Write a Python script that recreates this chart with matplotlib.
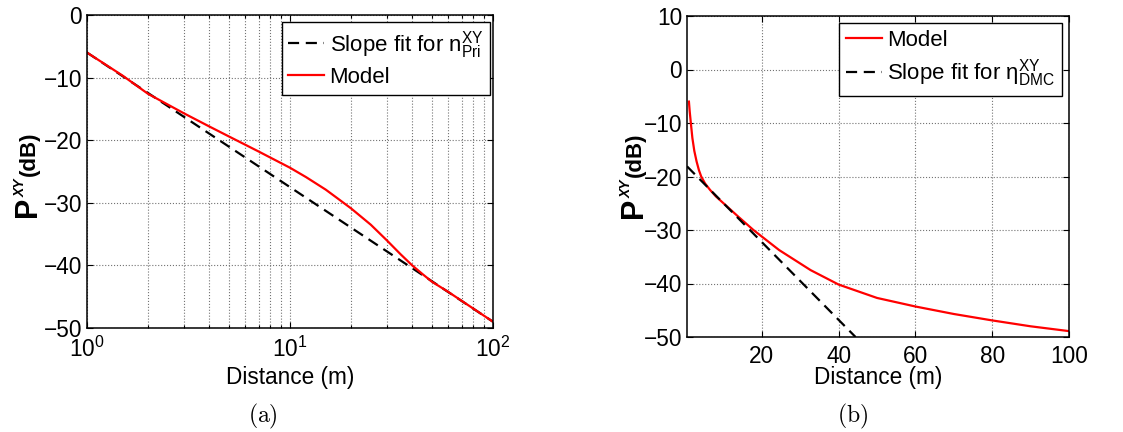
import matplotlib
matplotlib.use("Agg")
import matplotlib.pyplot as plt
from matplotlib.ticker import LogLocator, NullFormatter

plt.rcParams["font.family"] = ["Liberation Sans", "DejaVu Sans"]
plt.rcParams["mathtext.fontset"] = "custom"
plt.rcParams["mathtext.rm"] = "Liberation Sans"
plt.rcParams["mathtext.it"] = "Liberation Sans:bold:italic"
plt.rcParams["mathtext.bf"] = "Liberation Sans:bold"

# --- (a) log distance ---
left_dist = [1, 1.5, 2, 3, 4, 5, 7, 10, 12, 15, 17, 20, 25, 30, 35, 40, 45, 50,
             60, 80, 100]
left_model = [-6, -9.7, -12.6, -15.7, -17.8, -19.4, -21.8, -24.4, -25.9, -27.9,
              -29.2, -30.9, -33.5, -36.0, -38.2, -40.0, -41.4, -42.6, -44.2,
              -46.9, -49.0]
left_fit_x = [1, 100]
left_fit_y = [-6, -49]

# --- (b) linear distance ---
right_dist = [1, 1.2, 1.5, 1.9, 2.4, 3, 3.6, 4.2, 5.2, 6.5, 8, 10, 14, 17.8,
              24.5, 32.7, 40, 50, 60, 70, 80, 90, 100]
right_model = [-6, -7.8, -10, -12.8, -15.2, -17.2, -18.8, -20, -21.3, -22.5,
               -23.7, -25, -27.6, -30, -33.75, -37.5, -40.2, -42.7, -44.3,
               -45.7, -46.9, -48, -48.9]
right_fit_x = [0.5, 44.4]
right_fit_y = [-18.1, -50]

FS = 16.3
LEG_FS = 16
DASH = (0, (5, 3))
W, H = 1123, 432

fig = plt.figure(figsize=(W / 100, H / 100), dpi=100)
ax1 = fig.add_axes([87 / W, 1 - 328 / H, 406 / W, 313 / H])
ax2 = fig.add_axes([687 / W, 1 - 337 / H, 382 / W, 321 / H])


def style(ax):
    for s in ax.spines.values():
        s.set_linewidth(1.1)
    ax.tick_params(which="both", direction="in", top=True, right=True,
                   labelsize=FS, width=0.8)
    ax.tick_params(axis="x", pad=6)
    ax.tick_params(axis="y", pad=3.5)
    ax.tick_params(which="major", length=4)
    ax.tick_params(which="minor", length=2.5)
    ax.set_axisbelow(True)


def legend(ax, dx, dy):
    # dx, dy: inset of the legend box from the top-right corner, in pixels
    bb = ax.get_position()
    anchor = (1 - dx / (bb.width * W), 1 - dy / (bb.height * H))
    leg = ax.legend(loc="upper right", bbox_to_anchor=anchor, borderaxespad=0,
                    fontsize=LEG_FS, fancybox=False, framealpha=1,
                    edgecolor="black", handlelength=1.6, handletextpad=0.25,
                    labelspacing=0.3, borderpad=0.3)
    leg.get_frame().set_linewidth(1.0)


def ylabel(xpix, ypix):
    # MATLAB-style "P^XY (dB)": big bold P, small bold-italic XY, then (dB)
    kw = dict(rotation=90, rotation_mode="anchor", ha="left", va="baseline")
    p = fig.text(xpix / W, 1 - ypix / H, "P", fontsize=22, fontweight="bold", **kw)
    fig.canvas.draw()
    y = p.get_window_extent().y1
    xy = fig.text((xpix - 11) / W, y / H, "XY", fontsize=10, fontweight="bold",
                  fontstyle="italic", **kw)
    fig.canvas.draw()
    y = xy.get_window_extent().y1
    fig.text((xpix - 1) / W, (y + 2) / H, "(dB)", fontsize=16,
             fontweight="bold", **kw)


# (a)
ax1.semilogx(left_fit_x, left_fit_y, color="black", lw=1.6, linestyle=DASH,
             label=r"Slope fit for $\mathregular{n^{XY}_{Pri}}$")
ax1.semilogx(left_dist, left_model, color="red", lw=1.6, label="Model")
ax1.set_xlim(1, 100)
ax1.set_ylim(-50, 0)
ax1.set_yticks(range(-50, 1, 10))
ax1.xaxis.set_major_locator(LogLocator(base=10, numticks=5))
ax1.xaxis.set_minor_locator(LogLocator(base=10, subs=range(2, 10), numticks=20))
ax1.xaxis.set_minor_formatter(NullFormatter())
ax1.grid(True, which="both", axis="x", linestyle=":", color="0.45", lw=0.8)
ax1.grid(True, which="major", axis="y", linestyle=":", color="0.45", lw=0.8)
style(ax1)
ax1.set_xlabel("Distance (m)", fontsize=FS, labelpad=3.5)
legend(ax1, 3, 7)

# (b)
ax2.plot(right_dist, right_model, color="red", lw=1.6, label="Model")
ax2.plot(right_fit_x, right_fit_y, color="black", lw=1.6, linestyle=DASH,
         label=r"Slope fit for $\mathregular{\eta^{XY}_{DMC}}$")
ax2.set_xlim(0.5, 100)
ax2.set_ylim(-50, 10)
ax2.set_xticks([20, 40, 60, 80, 100])
ax2.set_yticks(range(-50, 11, 10))
ax2.grid(True, linestyle=":", color="0.45", lw=0.8)
style(ax2)
ax2.set_xlabel("Distance (m)", fontsize=FS, labelpad=-1.5)
legend(ax2, 7, 7)

ylabel(36, 217)
ylabel(642, 218)

fig.text(263 / W, 1 - 416 / H, r"$\mathrm{(a)}$", math_fontfamily="cm",
         fontsize=17, ha="center", va="center")
fig.text(853 / W, 1 - 416 / H, r"$\mathrm{(b)}$", math_fontfamily="cm",
         fontsize=17, ha="center", va="center")

fig.savefig("out.png", dpi=100)
